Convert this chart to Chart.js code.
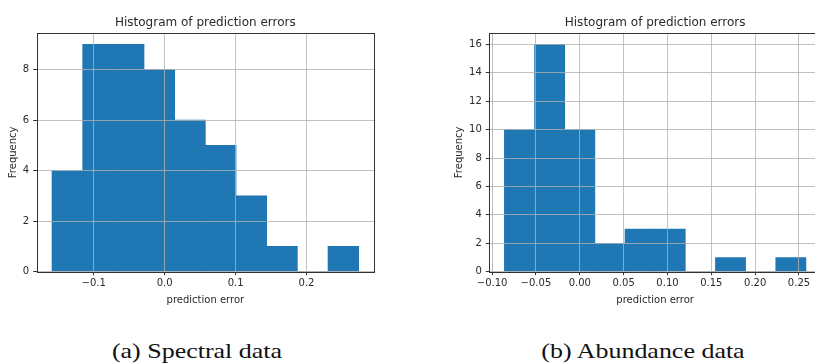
<!DOCTYPE html>
<html>
<head>
<meta charset="utf-8">
<script src="https://cdn.jsdelivr.net/npm/chart.js@4/dist/chart.umd.min.js"></script>
<style>
  html, body { margin: 0; padding: 0; background: #fff; }
  body { width: 815px; height: 363px; overflow: hidden; position: relative; }
  .panel { position: absolute; top: 0; height: 320px; }
  #panelA { left: 0; width: 400px; }
  #panelB { left: 400px; width: 440px; }
  .caption {
    position: absolute; top: 340px;
    font-family: "Liberation Serif", serif; font-size: 22px; line-height: 22px;
    color: #111; white-space: nowrap;
    transform: translateX(-50%) scaleX(1.18); transform-origin: center;
  }
</style>
</head>
<body>
<div class="panel" id="panelA"><canvas id="spectral" width="400" height="320"></canvas></div>
<div class="panel" id="panelB"><canvas id="abundance" width="440" height="320"></canvas></div>
<div class="caption" style="left:197px">(a) Spectral data</div>
<div class="caption" style="left:643px">(b) Abundance data</div>

<script>
// Histogram of spectral-data prediction errors: bin edges and counts
const spectralEdges  = [-0.1588, -0.1156, -0.0723, -0.0291, 0.0141, 0.0574, 0.1006, 0.1438, 0.1871, 0.2303, 0.2735];
const spectralCounts = [4, 9, 9, 8, 6, 5, 3, 1, 0, 1];
const spectralXTicks  = [-0.1, 0.0, 0.1, 0.2];
const spectralXLabels = ['\u22120.1', '0.0', '0.1', '0.2'];
const spectralYTicks  = [0, 2, 4, 6, 8];

// Histogram of abundance-data prediction errors
const abundanceEdges  = [-0.0860, -0.0516, -0.0172, 0.0172, 0.0516, 0.0860, 0.1203, 0.1547, 0.1891, 0.2235, 0.2579];
const abundanceCounts = [10, 16, 10, 2, 3, 3, 0, 1, 0, 1];
const abundanceXTicks  = [-0.10, -0.05, 0.00, 0.05, 0.10, 0.15, 0.20, 0.25];
const abundanceXLabels = ['\u22120.10', '\u22120.05', '0.00', '0.05', '0.10', '0.15', '0.20', '0.25'];
const abundanceYTicks  = [0, 2, 4, 6, 8, 10, 12, 14, 16];

const chartTitle = 'Histogram of prediction errors';
const xAxisTitle = 'prediction error';
const yAxisTitle = 'Frequency';

const FONT = '"DejaVu Sans", sans-serif';
const TEXT = '#2a2a2a';
const GRID = '#b0b0b0';
const BAR  = '#1f77b4';

// Box around the plot area, drawn last like axis spines
const spinePlugin = {
  id: 'spines',
  afterDraw(chart) {
    const { ctx, chartArea: a } = chart;
    ctx.save();
    ctx.strokeStyle = '#333';
    ctx.lineWidth = 1;
    const l = Math.round(a.left) + 0.5, t = Math.round(a.top) + 0.5;
    const r = Math.round(a.right) + 0.5, b = Math.round(a.bottom) + 0.5;
    ctx.strokeRect(l, t, r - l, b - t);
    ctx.restore();
  }
};

function histogram(canvasId, edges, counts, xTicks, xLabels, yTicks, geo) {
  const centers = counts.map((_, i) => (edges[i] + edges[i + 1]) / 2);
  const span = edges[edges.length - 1] - edges[0];
  const xMin = edges[0] - 0.05 * span;
  const xMax = edges[edges.length - 1] + 0.05 * span;
  const yMax = Math.max(...counts) * 1.05;

  return new Chart(document.getElementById(canvasId), {
    type: 'bar',
    data: {
      datasets: [{
        data: centers.map((c, i) => ({ x: c, y: counts[i] })),
        backgroundColor: BAR,
        borderWidth: 0,
        barThickness: 'flex',
        barPercentage: 1,
        categoryPercentage: 1
      }]
    },
    options: {
      responsive: false,
      animation: false,
      devicePixelRatio: 1,
      layout: { padding: geo.padding },
      plugins: {
        legend: { display: false },
        tooltip: { enabled: false },
        title: {
          display: true, text: chartTitle, color: TEXT, fullSize: false,
          font: { family: FONT, size: 12, weight: 'normal', lineHeight: 1.2 },
          padding: { top: 16, bottom: 2.6 }
        }
      },
      scales: {
        x: {
          type: 'linear', min: xMin, max: xMax, bounds: 'data',
          offset: false,
          afterBuildTicks: s => { s.ticks = xTicks.map(v => ({ value: v })); },
          afterFit: s => { s.height = 45; },
          ticks: {
            autoSkip: false, maxRotation: 0, padding: 2.5, color: TEXT,
            font: { family: FONT, size: 10 },
            callback: (v, i) => xLabels[i]
          },
          grid: { z: 1, offset: false, color: GRID, lineWidth: 0.8, tickLength: 3.5, tickColor: '#333', tickWidth: 1 },
          border: { display: false },
          title: {
            display: true, text: xAxisTitle, color: TEXT,
            font: { family: FONT, size: 10, lineHeight: 1.2 },
            padding: { top: 0, bottom: 10.7 }
          }
        },
        y: {
          type: 'linear', min: 0, max: yMax, bounds: 'data',
          afterBuildTicks: s => { s.ticks = yTicks.map(v => ({ value: v })); },
          afterFit: s => { s.width = geo.yWidth; },
          ticks: {
            padding: 4, color: TEXT,
            font: { family: FONT, size: 10 },
            callback: v => String(v)
          },
          grid: { z: 1, color: GRID, lineWidth: 0.8, tickLength: 3.5, tickColor: '#333', tickWidth: 1 },
          border: { display: false },
          title: {
            display: true, text: yAxisTitle, color: TEXT,
            font: { family: FONT, size: 10, lineHeight: 1.2 },
            padding: { top: geo.yTitlePad, bottom: 0 }
          }
        }
      }
    },
    plugins: [spinePlugin]
  });
}

histogram('spectral', spectralEdges, spectralCounts, spectralXTicks, spectralXLabels, spectralYTicks,
  { padding: { left: 0, right: 26, top: 0, bottom: 3.3 }, yWidth: 36.7, yTitlePad: 7.3 });

histogram('abundance', abundanceEdges, abundanceCounts, abundanceXTicks, abundanceXLabels, abundanceYTicks,
  { padding: { left: 44.3, right: 19, top: 0, bottom: 3.3 }, yWidth: 45, yTitlePad: 9 });
</script>
</body>
</html>
